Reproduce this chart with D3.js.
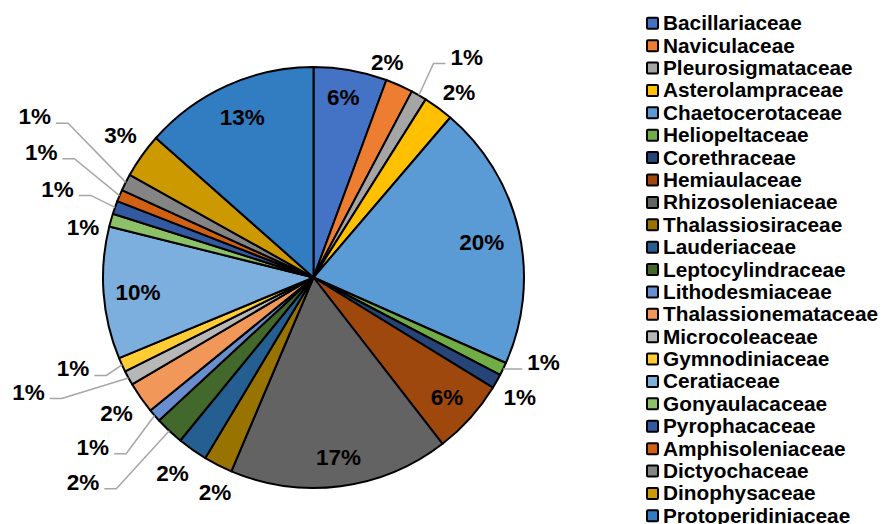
<!DOCTYPE html>
<html lang="en">
<head>
	<meta charset="utf-8">
	<title>Phytoplankton families</title>
	<script src="https://d3js.org/d3.v7.min.js" charset="utf-8"></script>
	<style>
		body { margin: 0; background: #fff; }
		text { font-family: "Liberation Sans", Arial, sans-serif; font-weight: bold; fill: #000; }
	</style>
</head>
<body>
<script>
// families, in the order they go round the pie (clockwise from 12 o'clock)
var families = ["Bacillariaceae", "Naviculaceae", "Pleurosigmataceae", "Asterolampraceae",
	"Chaetocerotaceae", "Heliopeltaceae", "Corethraceae", "Hemiaulaceae", "Rhizosoleniaceae",
	"Thalassiosiraceae", "Lauderiaceae", "Leptocylindraceae", "Lithodesmiaceae",
	"Thalassionemataceae", "Microcoleaceae", "Gymnodiniaceae", "Ceratiaceae", "Gonyaulacaceae",
	"Pyrophacaceae", "Amphisoleniaceae", "Dictyochaceae", "Dinophysaceae", "Protoperidiniaceae"];

// share of each family (%)
var shares = [5.6, 2.1, 1.2, 2.3, 20.3, 1.0, 1.1, 5.7, 16.8, 2.2, 2.3, 2.2, 1.0, 2.4,
	1.1, 1.1, 10.1, 1.0, 1.0, 0.9, 1.3, 3.4, 13.4];

var colors = ["#4472C4", "#ED7D31", "#A5A5A5", "#FFC000", "#5B9BD5", "#70AD47", "#264478",
	"#9E480E", "#636363", "#997300", "#255E91", "#43682B", "#698ED0", "#F1975A", "#B7B7B7",
	"#FFCD33", "#7CAFDD", "#8CC168", "#335AA1", "#D26012", "#848484", "#CC9A00", "#327DC2"];

var w = 884, h = 524;
var cx = 313.5, cy = 277.5, R = 210.5;

// label placement (excel "best fit" look): [radius, degrees off the slice middle, leader line?]
var labelLayout = [
	[183, -0.8, 0], [228, -5.2, 0], [269, 4.7, 1], [236, 1.7, 0], [172, 0.75, 0],
	[245, -5.6, 1], [238, 0.4, 0], [179, -0.1, 0], [181, -0.5, 0], [236, -2.3, 0],
	[241, 0.7, 0], [308, 5.2, 1], [278, 3.5, 1], [239, 0.3, 0], [307, 6.7, 1],
	[257, 3.8, 1], [176, -0.35, 0], [236, -3.4, 0], [271, -0.25, 1], [300, 1.9, 1],
	[322, 3.2, 1], [240, 1.1, 0], [176, 0.4, 0]
];

var svg = d3.select("body").append("svg")
	.attr("width", w)
	.attr("height", h);

var total = d3.sum(shares);
var pie = d3.pie().sort(null).value(function(d) { return d; });
var arcs = pie(shares);
var arc = d3.arc().innerRadius(0).outerRadius(R);

var g = svg.append("g").attr("transform", "translate(" + cx + "," + cy + ")");

g.selectAll("path.slice")
	.data(arcs)
	.enter()
	.append("path")
	.attr("class", "slice")
	.attr("d", arc)
	.attr("fill", function(d, i) { return colors[i]; })
	.attr("stroke", "#000")
	.attr("stroke-width", 2)
	.attr("stroke-linejoin", "round");

// polar -> xy, angle measured clockwise from 12 o'clock
function polar(r, a) {
	return [r * Math.sin(a), -r * Math.cos(a)];
}

var fs = 22.5;
var labels = arcs.map(function(d, i) {
	var lay = labelLayout[i];
	var mid = (d.startAngle + d.endAngle) / 2;
	var p = polar(lay[0], mid + lay[1] * Math.PI / 180);
	return { i: i, mid: mid, x: p[0], y: p[1], leader: lay[2],
		text: Math.round(d.value / total * 100) + "%" };
});

// leader lines
labels.filter(function(l) { return l.leader; }).forEach(function(l) {
	var tw = 1.445 * fs; // width of "1%" in bold arial
	var side = l.x < 0 ? 1 : -1;
	var x0 = l.x + side * (tw / 2 + 5);
	var y0 = l.y + 7;
	var x1 = x0 + side * 12;
	var edge = polar(R, l.mid);
	g.append("polyline")
		.attr("points", [[x0, y0], [x1, y0], edge].map(function(p) { return p.join(","); }).join(" "))
		.attr("fill", "none")
		.attr("stroke", "#A6A6A6")
		.attr("stroke-width", 1.5);
});

g.selectAll("text.pct")
	.data(labels)
	.enter()
	.append("text")
	.attr("class", "pct")
	.attr("x", function(d) { return d.x; })
	.attr("y", function(d) { return d.y; })
	.attr("dy", "0.36em")
	.attr("text-anchor", "middle")
	.style("font-size", fs + "px")
	.text(function(d) { return d.text; });

// legend
var ly = d3.scaleLinear().domain([0, families.length - 1]).range([23.3, 515.8]);
var legend = svg.append("g");
var rows = legend.selectAll("g.row")
	.data(families)
	.enter()
	.append("g")
	.attr("class", "row")
	.attr("transform", function(d, i) { return "translate(646," + ly(i) + ")"; });

rows.append("rect")
	.attr("x", 1)
	.attr("y", -5.5)
	.attr("width", 11)
	.attr("height", 11)
	.attr("rx", 1)
	.attr("fill", function(d, i) { return colors[i]; })
	.attr("stroke", "#000")
	.attr("stroke-width", 2);

rows.append("text")
	.attr("x", 17)
	.attr("y", 7)
	.style("font-size", "20.8px")
	.text(function(d) { return d; });
</script>
</body>
</html>
